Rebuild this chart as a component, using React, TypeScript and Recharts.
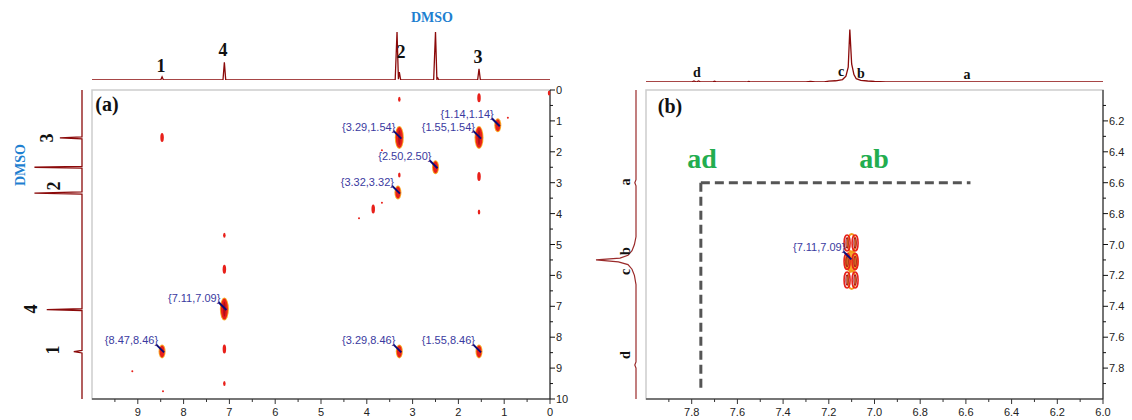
import { ScatterChart, Scatter, LineChart, Line, XAxis, YAxis, ReferenceArea, ReferenceLine } from 'recharts'

const SERIF = '"Liberation Serif", "Times New Roman", serif'
const SANS = '"Liberation Sans", Arial, sans-serif'
const TRACE = '#8b0a0a'

// 1D projections: [ppm, intensity]
const topSpecA = [
  [10, 0], [8.5, 0], [8.47, 4], [8.44, 0], [7.14, 0], [7.11, 22], [7.08, 0],
  [3.38, 0], [3.34, 60], [3.31, 1], [3.29, 10], [3.26, 0],
  [2.54, 0], [2.5, 60], [2.47, 1], [2.45, 2.5], [2.43, 0],
  [1.58, 0], [1.55, 14], [1.52, 0], [0, 0],
].map(([ppm, i]) => ({ ppm, i }))

const leftSpecA = [
  [0, 0], [1.52, 0], [1.55, 27], [1.58, 0], [2.47, 0], [2.5, 58], [2.53, 0],
  [3.3, 0], [3.34, 58], [3.37, 0], [7.08, 0], [7.11, 43], [7.14, 0],
  [8.43, 0], [8.47, 10], [8.51, 0], [10, 0],
].map(([ppm, i]) => ({ ppm, i }))

const topSpecB = [
  [8, 0], [7.8, 0], [7.79, 1.2], [7.78, 0], [7.77, 1.2], [7.76, 0], [7.71, 0], [7.7, 1], [7.69, 0],
  [7.56, 0], [7.55, 0.8], [7.54, 0], [7.3, 0], [7.28, 0.8], [7.26, 0], [7.22, 0], [7.2, 1],
  [7.17, 1.5], [7.14, 3], [7.125, 7], [7.115, 18], [7.108, 64], [7.1, 22], [7.09, 9], [7.08, 4],
  [7.06, 2], [7.03, 1.2], [7.0, 0.6], [6.95, 0], [6, 0],
].map(([ppm, i]) => ({ ppm, i }))

const leftSpecB = [
  [6, 0], [6.58, 0], [6.6, 1.5], [6.62, 0], [6.95, 0], [7.0, 2], [7.04, 5], [7.07, 10],
  [7.088, 20], [7.1, 50], [7.112, 22], [7.13, 10], [7.16, 5], [7.2, 2], [7.26, 0],
  [7.76, 0], [7.78, 1.5], [7.8, 0], [8, 0],
].map(([ppm, i]) => ({ ppm, i }))

// COSY cross peaks (F2, F1, level)
const labelledPeaksA = [
  { x: 3.29, y: 1.54, lv: 4 },
  { x: 1.55, y: 1.54, lv: 4 },
  { x: 1.14, y: 1.14, lv: 3 },
  { x: 2.5, y: 2.5, lv: 3 },
  { x: 3.32, y: 3.32, lv: 3 },
  { x: 7.11, y: 7.09, lv: 4 },
  { x: 8.47, y: 8.46, lv: 3 },
  { x: 3.29, y: 8.46, lv: 3 },
  { x: 1.55, y: 8.46, lv: 3 },
]

const weakPeaksA = [
  { x: 8.47, y: 1.54, lv: 2 },
  { x: 3.29, y: 0.3, lv: 1 },
  { x: 1.55, y: 0.25, lv: 2 },
  { x: 0.02, y: 0.1, lv: 1 },
  { x: 0.92, y: 0.9, lv: 0 },
  { x: 3.67, y: 1.95, lv: 0 },
  { x: 3.29, y: 2.75, lv: 1 },
  { x: 1.55, y: 2.8, lv: 2 },
  { x: 1.55, y: 3.95, lv: 1 },
  { x: 3.86, y: 3.85, lv: 2 },
  { x: 3.67, y: 3.65, lv: 0 },
  { x: 4.17, y: 4.15, lv: 0 },
  { x: 7.11, y: 4.7, lv: 1 },
  { x: 7.11, y: 5.8, lv: 2 },
  { x: 7.11, y: 8.38, lv: 2 },
  { x: 7.11, y: 9.5, lv: 1 },
  { x: 9.12, y: 9.1, lv: 0 },
  { x: 8.45, y: 9.75, lv: 0 },
]

const orangeContourB = [
  { x: 7.1, y: 6.99, lv: 1 },
  { x: 7.1, y: 7.11, lv: 2 },
  { x: 7.1, y: 7.23, lv: 1 },
]
const redContourB = [
  { x: 7.12, y: 6.99 }, { x: 7.085, y: 6.99 },
  { x: 7.12, y: 7.11 }, { x: 7.085, y: 7.11 },
  { x: 7.12, y: 7.23 }, { x: 7.085, y: 7.23 },
]
const labelledPeaksB = [{ x: 7.11, y: 7.09 }]

const ticksXA = [9.5, 9, 8.5, 8, 7.5, 7, 6.5, 6, 5.5, 5, 4.5, 4, 3.5, 3, 2.5, 2, 1.5, 1, 0.5, 0]
const ticksYA = [0, 0.5, 1, 1.5, 2, 2.5, 3, 3.5, 4, 4.5, 5, 5.5, 6, 6.5, 7, 7.5, 8, 8.5, 9, 9.5, 10]
const ticksXB = [7.9, 7.8, 7.7, 7.6, 7.5, 7.4, 7.3, 7.2, 7.1, 7.0, 6.9, 6.8, 6.7, 6.6, 6.5, 6.4, 6.3, 6.2, 6.1, 6.0]
const ticksYB = [6.1, 6.2, 6.3, 6.4, 6.5, 6.6, 6.7, 6.8, 6.9, 7.0, 7.1, 7.2, 7.3, 7.4, 7.5, 7.6, 7.7, 7.8, 7.9]

const intMajor = (v: number) => Number.isInteger(v)
const fifthMajor = (v: number) => Math.round(v * 10) % 2 === 0

function AxisTick(props: any) {
  const { x, y, payload, side, isMajor, fmt } = props
  const v = payload.value as number
  const major = isMajor(v)
  const len = major ? 5 : 3
  if (side === 'bottom') {
    return (
      <g>
        <line x1={x} x2={x} y1={y} y2={y + len} stroke='#333' />
        {major && (
          <text x={x} y={y + 17} textAnchor='middle' fontSize={11} fontFamily={SANS} fill='#222'>
            {fmt(v)}
          </text>
        )}
      </g>
    )
  }
  return (
    <g>
      <line x1={x} x2={x + len} y1={y} y2={y} stroke='#111' />
      {major && (
        <text x={x + 6} y={y + 4} fontSize={11} fontFamily={SANS} fill='#222'>
          {fmt(v)}
        </text>
      )}
    </g>
  )
}

const BLOB: Record<number, [number, number]> = { 4: [7, 21], 3: [5, 12], 2: [3.5, 9], 1: [2.5, 5], 0: [2, 2] }

function Blob({ cx, cy, payload }: any) {
  const [w, h] = BLOB[payload.lv]
  return (
    <g>
      {payload.lv >= 3 && <ellipse cx={cx} cy={cy} rx={w / 2 + 1} ry={h / 2 + 1} fill='#f9a825' />}
      <ellipse cx={cx} cy={cy} rx={w / 2} ry={h / 2} fill='#e8201a' />
      {payload.lv >= 4 && <ellipse cx={cx} cy={cy} rx={1.3} ry={h / 2 - 3} fill='#b0101a' />}
    </g>
  )
}

function Tag({ cx, cy, payload }: any) {
  const txt = `{${payload.x.toFixed(2)},${payload.y.toFixed(2)}}`
  return (
    <g>
      <line x1={cx - 6} y1={cy - 7} x2={cx + 2} y2={cy + 1} stroke='#0a0a78' strokeWidth={2} />
      <text x={cx - 4} y={cy - 7} textAnchor='end' fontSize={11} fontFamily={SANS} fill='#3a3aa0'>
        {txt}
      </text>
    </g>
  )
}

function TaggedBlob(props: any) {
  return (
    <g>
      <Blob {...props} />
      <Tag {...props} />
    </g>
  )
}

function OrangeContour({ cx, cy, payload }: any) {
  const big = payload.lv === 2
  return (
    <ellipse cx={cx} cy={cy} rx={big ? 6 : 4} ry={big ? 10 : 9} fill={big ? '#f7a72a' : 'none'} stroke='#f39a1a' strokeWidth={2} />
  )
}

function RedContour({ cx, cy }: any) {
  return (
    <g>
      <ellipse cx={cx} cy={cy} rx={3} ry={8} fill='none' stroke='#e8231c' strokeWidth={1.6} />
      <ellipse cx={cx} cy={cy} rx={1.1} ry={5} fill='none' stroke='#a0101a' strokeWidth={1.2} />
    </g>
  )
}

const NoDot = () => <g />

const abs = (left: number, top: number) => ({ position: 'absolute' as const, left, top })

function Annotations() {
  const bold = { fontFamily: SERIF, fontWeight: 700 }
  const rot = (x: number, y: number) => `rotate(-90 ${x} ${y})`
  return (
    <svg width={1132} height={420} style={{ ...abs(0, 0), pointerEvents: 'none' }}>
      <g {...bold} fontSize={18} fill='#111' textAnchor='middle' dominantBaseline='central'>
        <text x={161} y={66}>1</text>
        <text x={223} y={50}>4</text>
        <text x={401} y={52}>2</text>
        <text x={478} y={57}>3</text>
        <text x={47} y={138} transform={rot(47, 138)}>3</text>
        <text x={54} y={186} transform={rot(54, 186)}>2</text>
        <text x={31} y={309} transform={rot(31, 309)}>4</text>
        <text x={53} y={350} transform={rot(53, 350)}>1</text>
        <text x={107} y={104} fontSize={20}>(a)</text>
        <text x={670} y={106} fontSize={20}>(b)</text>
      </g>
      <g {...bold} fontSize={14} fill='#1e7fd0' textAnchor='middle' dominantBaseline='central'>
        <text x={432} y={17}>DMSO</text>
        <text x={20} y={165} transform={rot(20, 165)}>DMSO</text>
      </g>
      <g {...bold} fontSize={14} fill='#111' textAnchor='middle' dominantBaseline='central'>
        <text x={697} y={72}>d</text>
        <text x={841} y={71}>c</text>
        <text x={861} y={73}>b</text>
        <text x={967} y={74}>a</text>
        <text x={625} y={182} transform={rot(625, 182)}>a</text>
        <text x={625} y={251} transform={rot(625, 251)}>b</text>
        <text x={625} y={272} transform={rot(625, 272)}>c</text>
        <text x={625} y={355} transform={rot(625, 355)}>d</text>
      </g>
      <g {...bold} fontSize={28} fill='#22ad4f' textAnchor='middle' dominantBaseline='central'>
        <text x={702} y={158}>ad</text>
        <text x={874} y={158}>ab</text>
      </g>
    </svg>
  )
}

export default function App() {
  return (
    <div style={{ ...abs(0, 0), width: 1132, height: 420, background: '#fff' }}>
      {/* panel (a) projections */}
      <div style={abs(0, 0)}>
        <LineChart width={600} height={80} data={topSpecA} margin={{ top: 0, right: 50, bottom: 0, left: 92 }}>
          <XAxis hide type='number' dataKey='ppm' domain={[0, 10]} reversed />
          <YAxis hide domain={[0, 100]} />
          <Line dataKey='i' stroke={TRACE} strokeWidth={1.3} dot={false} isAnimationActive={false} />
        </LineChart>
      </div>
      <div style={abs(0, 0)}>
        <ScatterChart width={92} height={420} margin={{ top: 90, right: 10, bottom: 21, left: 0 }}>
          <XAxis hide type='number' dataKey='i' domain={[0, 100]} reversed />
          <YAxis hide type='number' dataKey='ppm' domain={[0, 10]} reversed />
          <Scatter data={leftSpecA} line={{ stroke: TRACE, strokeWidth: 1.3 }} lineType='joint' shape={NoDot} isAnimationActive={false} />
        </ScatterChart>
      </div>

      {/* panel (b) projections */}
      <div style={abs(0, 0)}>
        <ScatterChart width={646} height={420} margin={{ top: 90, right: 10, bottom: 21, left: 556 }}>
          <XAxis hide type='number' dataKey='i' domain={[0, 100]} reversed />
          <YAxis hide type='number' dataKey='ppm' domain={[6, 8]} reversed />
          <Scatter data={leftSpecB} line={{ stroke: '#9a2a2a', strokeWidth: 1.2 }} lineType='joint' shape={NoDot} isAnimationActive={false} />
        </ScatterChart>
      </div>
      <div style={abs(596, 0)}>
        <LineChart width={536} height={82} data={topSpecB} margin={{ top: 0, right: 29, bottom: 0, left: 50 }}>
          <XAxis hide type='number' dataKey='ppm' domain={[6, 8]} reversed />
          <YAxis hide domain={[0, 100]} />
          <Line dataKey='i' stroke={TRACE} strokeWidth={1.3} dot={false} isAnimationActive={false} />
        </LineChart>
      </div>

      {/* panel (a) COSY */}
      <div style={abs(0, 0)}>
        <ScatterChart width={600} height={420} margin={{ top: 90, right: 10, bottom: 0, left: 92 }}>
          <XAxis
            type='number' dataKey='x' domain={[0, 10]} reversed ticks={ticksXA} interval={0}
            height={21} tickSize={0} tickMargin={0} tickLine={false} axisLine={{ stroke: '#555', strokeWidth: 1.5 }}
            tick={(p: any) => <AxisTick {...p} side='bottom' isMajor={intMajor} fmt={String} />}
          />
          <YAxis
            type='number' dataKey='y' orientation='right' domain={[0, 10]} reversed ticks={ticksYA} interval={0}
            width={40} tickSize={0} tickMargin={0} tickLine={false} axisLine={{ stroke: '#111' }}
            tick={(p: any) => <AxisTick {...p} side='right' isMajor={intMajor} fmt={String} />}
          />
          <ReferenceArea x1={10} x2={0} y1={0} y2={10} fill='none' stroke='#cdcdcd' strokeWidth={1.5} />
          <Scatter data={weakPeaksA} shape={Blob} isAnimationActive={false} />
          <Scatter data={labelledPeaksA} shape={TaggedBlob} isAnimationActive={false} />
        </ScatterChart>
      </div>

      {/* panel (b) COSY zoom */}
      <div style={abs(596, 0)}>
        <ScatterChart width={536} height={420} margin={{ top: 90, right: 1, bottom: 0, left: 50 }}>
          <XAxis
            type='number' dataKey='x' domain={[6, 8]} reversed ticks={ticksXB} interval={0}
            height={21} tickSize={0} tickMargin={0} tickLine={false} axisLine={{ stroke: '#555', strokeWidth: 1.5 }}
            tick={(p: any) => <AxisTick {...p} side='bottom' isMajor={fifthMajor} fmt={(v: number) => v.toFixed(1)} />}
          />
          <YAxis
            type='number' dataKey='y' orientation='right' domain={[6, 8]} reversed ticks={ticksYB} interval={0}
            width={28} tickSize={0} tickMargin={0} tickLine={false} axisLine={{ stroke: '#111' }}
            tick={(p: any) => <AxisTick {...p} side='right' isMajor={fifthMajor} fmt={(v: number) => v.toFixed(1)} />}
          />
          <ReferenceArea x1={8} x2={6} y1={6} y2={8} fill='none' stroke='#cdcdcd' strokeWidth={1.5} />
          <ReferenceLine segment={[{ x: 7.76, y: 6.6 }, { x: 6.58, y: 6.6 }]} stroke='#555' strokeWidth={3} strokeDasharray='9 5' />
          <ReferenceLine segment={[{ x: 7.76, y: 6.6 }, { x: 7.76, y: 7.95 }]} stroke='#555' strokeWidth={3} strokeDasharray='9 5' />
          <Scatter data={orangeContourB} shape={OrangeContour} isAnimationActive={false} />
          <Scatter data={redContourB} shape={RedContour} isAnimationActive={false} />
          <Scatter data={labelledPeaksB} shape={Tag} isAnimationActive={false} />
        </ScatterChart>
      </div>

      <Annotations />
    </div>
  )
}
